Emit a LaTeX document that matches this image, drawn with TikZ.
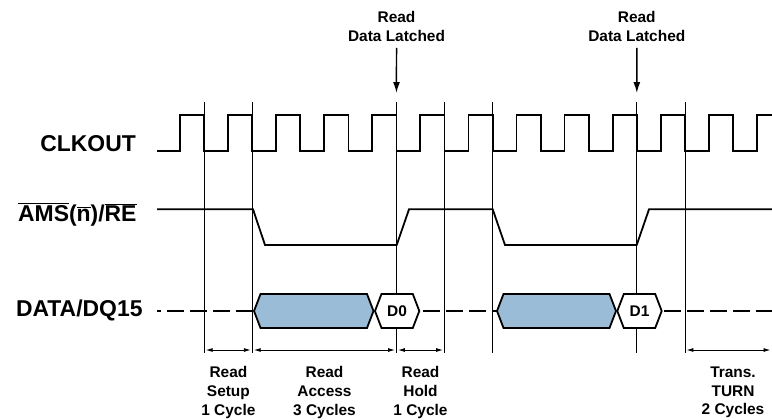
\documentclass[tikz,border=0pt]{standalone}
\usepackage{fontspec}
\setmainfont{Liberation Sans}
\usepackage{tikz}
\usetikzlibrary{arrows.meta}
\definecolor{busblue}{RGB}{155,188,214}

\begin{document}
\begin{tikzpicture}[x=1bp, y=-1bp,
    wave/.style={line width=1.8},
    guide/.style={line width=0.8},
    busline/.style={line width=1.8, dash pattern=on 17 off 6},
    dimarrow/.style={line width=0.9, {Latex[length=7,width=4]}-{Latex[length=7,width=4]}, shorten <=1.5, shorten >=1.5},
    latch/.style={line width=1.5, -{Latex[length=11,width=7]}},
    sigtext/.style={font=\fontsize{23}{27}\selectfont\bfseries, inner sep=0, anchor=base east},
    notetext/.style={font=\fontsize{15.5}{18.8}\selectfont\bfseries, align=center, inner sep=0, anchor=north},
    bustext/.style={font=\fontsize{15.5}{18.8}\selectfont\bfseries, inner sep=0}]
    \useasboundingbox (0,0) rectangle (772,419);
    % Cycle boundaries (falling clock edges)
    \foreach \k/\n in {0/a,1/b,4/c,5/d,6/e,9/f,10/g}
      \coordinate (g\n) at ({204.2+48.07*\k},350);
    \coordinate (gh) at (772,350);
    \foreach \n in {a,b,c,d,e,f,g}
      \draw[guide] (g\n |- 0,102) -- (g\n |- 0,353);
    % Signal names
    \node[sigtext] (clk) at (136,151.7) {CLKOUT};
    \node[sigtext] (ams) at (136.7,221) {$\overline{\mbox{AMS}}\mbox{(}\overline{\mbox{n}}\mbox{)/}\overline{\mbox{RE}}$};
    \node[sigtext] (data) at (142.7,316.7) {DATA/DQ15};
    % CLKOUT
    \draw[wave] (157,151) \foreach \k in {0,...,11} {
      -- ({180+48.07*\k},151) -- ++(0,-36) -- ++(24.2,0) -- ++(0,36) }
      -- (756.8,151) -- (756.8,115) -- (772,115);
    % AMS(n)/RE
    \draw[wave] (157,209.3) -- (253,209.3) -- (265,245) -- (396.7,245) -- (409,209.3)
      -- (492.7,209.3) -- (505,245) -- (636.7,245) -- (649,209.3) -- (772,209.3);
    % DATA bus
    \draw[busline, dash phase=13] (157,311) -- (254,311);
    \draw[busline, dash phase=0] (423,311) -- (497,311);
    \draw[busline, dash phase=0] (664,311) -- (772,311);
    \foreach \l/\r/\c in {254/373.5/busblue, 497/616/busblue, 375/419.3/white, 617.3/661.7/white}
      \filldraw[wave, fill=\c] (\l,311) -- ({\l+6.5},294) -- ({\r-6.5},294) -- (\r,311)
        -- ({\r-6.5},328) -- ({\l+6.5},328) -- cycle;
    \node[bustext] (d0) at (397,311) {D0};
    \node[bustext] (d1) at (639.5,311) {D1};
    % Latch markers
    \node[notetext] (lat0) at (396.5,11) {Read\\Data Latched};
    \node[notetext] (lat1) at (636.8,11) {Read\\Data Latched};
    \draw[latch] (lat0.south) ++(0,6.5) -- (gc |- 0,93);
    \draw[latch] (lat1.south) ++(0,6.5) -- (gf |- 0,93);
    % Cycle annotations
    \draw[dimarrow] (ga) -- (gb);
    \draw[dimarrow] (gb) -- (gc);
    \draw[dimarrow] (gc) -- (gd);
    \draw[dimarrow] (gg) -- (gh);
    \node[notetext] (setup) at (228.4,366.5) {Read\\Setup\\1 Cycle};
    \node[notetext] (access) at (324.5,366.5) {Read\\Access\\3 Cycles};
    \node[notetext] (hold) at (420.5,366.5) {Read\\Hold\\1 Cycle};
    \node[notetext] (turn) at (733,366.5) {Trans.\\TURN\\2 Cycles};
\end{tikzpicture}
\end{document}
